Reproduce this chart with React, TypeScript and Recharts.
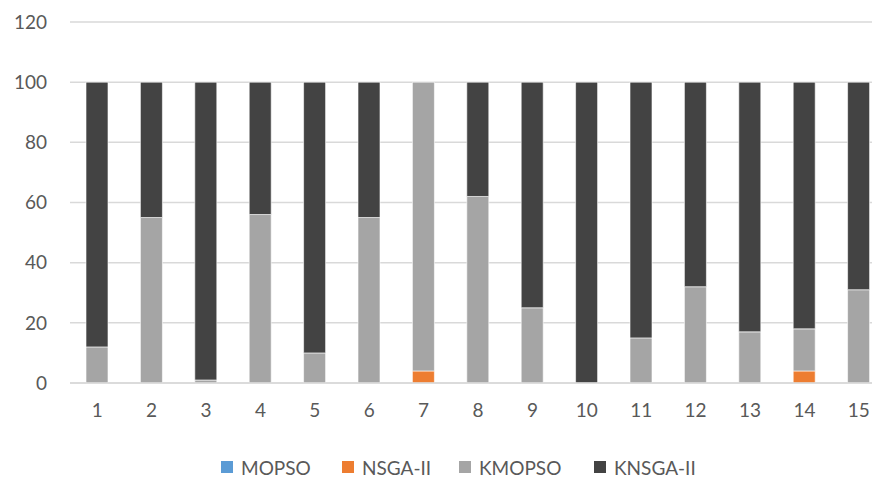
import React from "react";
import { BarChart, Bar, XAxis, YAxis, CartesianGrid, Legend } from "recharts";

// Run indices on the x axis
const runs = ["1", "2", "3", "4", "5", "6", "7", "8", "9", "10", "11", "12", "13", "14", "15"];

// Share (%) won by each algorithm per run
const mopso = [0, 0, 0, 0, 0, 0, 0, 0, 0, 0, 0, 0, 0, 0, 0];
const nsga2 = [0, 0, 0, 0, 0, 0, 4, 0, 0, 0, 0, 0, 0, 4, 0];
const kmopso = [12, 55, 1, 56, 10, 55, 96, 62, 25, 0, 15, 32, 17, 14, 31];
const knsga2 = [88, 45, 99, 44, 90, 45, 0, 38, 75, 100, 85, 68, 83, 82, 69];

const yTicks = [0, 20, 40, 60, 80, 100, 120];

const series = [
  { key: "MOPSO", color: "#5b9bd5", width: 121 },
  { key: "NSGA-II", color: "#ed7d31", width: 117 },
  { key: "KMOPSO", color: "#a5a5a5", width: 135 },
  { key: "KNSGA-II", color: "#434343", width: 120 },
];

const chartData = runs.map((run, i) => ({
  run,
  MOPSO: mopso[i],
  "NSGA-II": nsga2[i],
  KMOPSO: kmopso[i],
  "KNSGA-II": knsga2[i],
}));

const font = "Lato, 'Open Sans', sans-serif";

function LegendBox() {
  return (
    <div
      style={{
        display: "flex",
        justifyContent: "flex-start",
        alignItems: "center",
        height: 46,
        paddingLeft: 221,
        paddingTop: 22,
        boxSizing: "border-box",
        fontFamily: font,
        fontSize: 19,
        color: "#595959",
      }}
    >
      {series.map((s) => (
        <div key={s.key} style={{ display: "flex", alignItems: "center", width: s.width, flex: "none" }}>
          <span style={{ display: "inline-block", width: 12, height: 12, background: s.color, marginRight: 8 }} />
          <span>{s.key}</span>
        </div>
      ))}
    </div>
  );
}

export default function App() {
  return (
    <div style={{ position: "absolute", left: 0, top: 0, width: 872, height: 479, overflow: "hidden", background: "#fff" }}>
      <BarChart
        width={890}
        height={479}
        data={chartData}
        margin={{ top: 22, right: 4, left: 0, bottom: 0 }}
        barCategoryGap="60%"
      >
        <CartesianGrid vertical={false} stroke="#d9d9d9" strokeWidth={1.5} />
        <XAxis
          dataKey="run"
          height={50}
          tickLine={false}
          axisLine={{ stroke: "#d9d9d9", strokeWidth: 1.5 }}
          tick={{ fill: "#595959", fontSize: 19, fontFamily: font }}
          tickMargin={15}
        />
        <YAxis
          width={70}
          domain={[0, 120]}
          ticks={yTicks}
          tickLine={false}
          axisLine={false}
          tickSize={0}
          tickMargin={23}
          tick={{ fill: "#595959", fontSize: 19, fontFamily: font }}
        />
        <Legend verticalAlign="bottom" align="left" content={() => <LegendBox />} wrapperStyle={{ left: 0, width: 872 }} />
        {series.map((s) => (
          <Bar
            key={s.key}
            dataKey={s.key}
            stackId="a"
            fill={s.color}
            stroke="#ffffff"
            strokeOpacity={0.6}
            strokeWidth={1}
            barSize={22}
            isAnimationActive={false}
          />
        ))}
      </BarChart>
    </div>
  );
}
